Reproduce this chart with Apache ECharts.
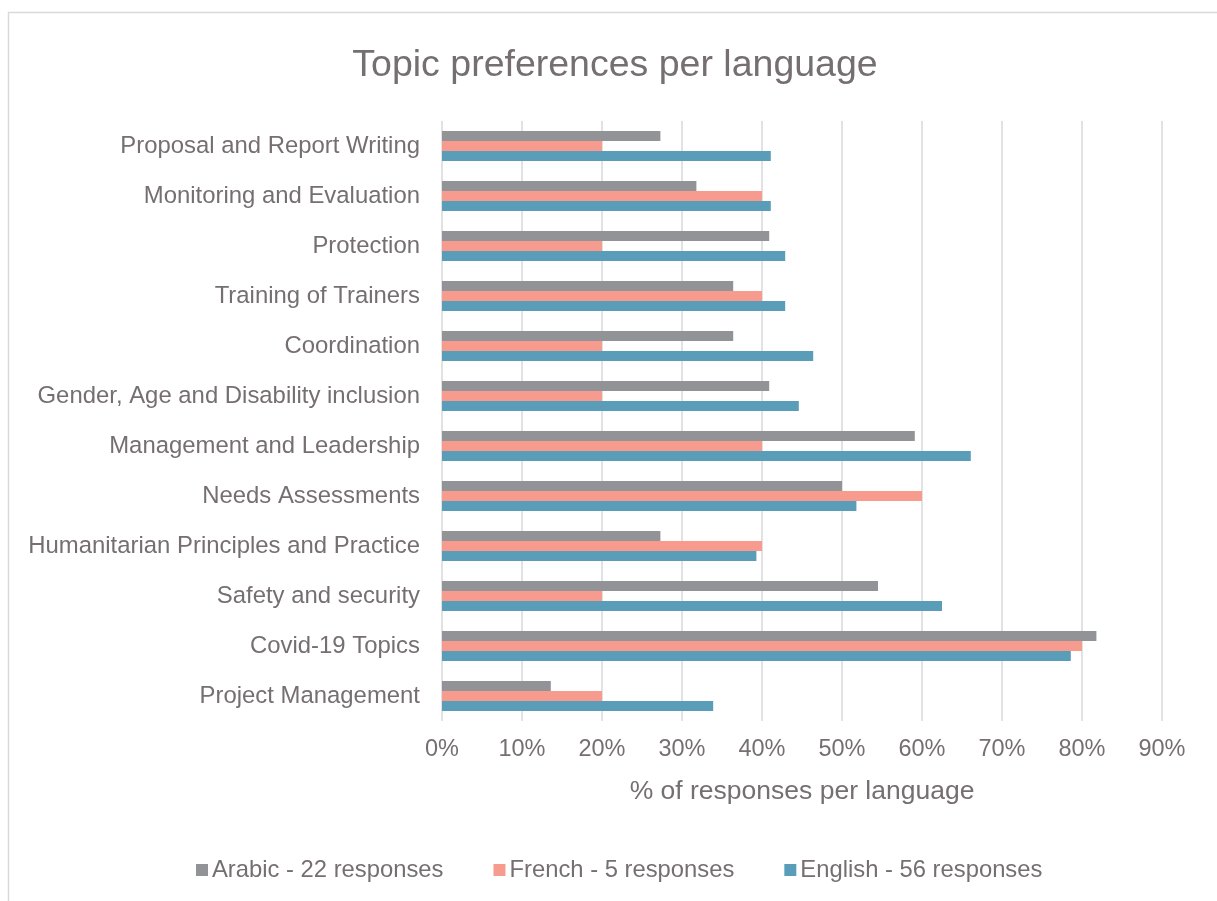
<!DOCTYPE html>
<html>
<head>
<meta charset="utf-8">
<script src="https://cdn.jsdelivr.net/npm/echarts@6/dist/echarts.min.js"></script>
<style>
  html, body { margin: 0; padding: 0; background: #fff; }
  #chart { width: 1217px; height: 901px; }
</style>
</head>
<body>
<div id="chart"></div>
<script>
// topics, top to bottom as shown
const topics = [
  'Proposal and Report Writing',
  'Monitoring and Evaluation',
  'Protection',
  'Training of Trainers',
  'Coordination',
  'Gender, Age and Disability inclusion',
  'Management and Leadership',
  'Needs Assessments',
  'Humanitarian Principles and Practice',
  'Safety and security',
  'Covid-19 Topics',
  'Project Management'
];
const seriesNames = ['Arabic - 22 responses', 'French - 5 responses', 'English - 56 responses'];
// % of responses
const arabic = [27.3, 31.8, 40.9, 36.4, 36.4, 40.9, 59.1, 50.0, 27.3, 54.5, 81.8, 13.6];
const french = [20, 40, 20, 40, 20, 20, 40, 60, 40, 20, 80, 20];
const english = [41.1, 41.1, 42.9, 42.9, 46.4, 44.6, 66.1, 51.8, 39.3, 62.5, 78.6, 33.9];
const xTicks = [0, 10, 20, 30, 40, 50, 60, 70, 80, 90];

const textColor = '#766f71';
const font = '"Liberation Sans", Arial, sans-serif';
const colors = ['#929397', '#f79b8f', '#5a9db9'];

const chart = echarts.init(document.getElementById('chart'));

const mkSeries = (name, data, i) => ({
  name: name,
  type: 'bar',
  data: data,
  barWidth: 10,
  barGap: '0%',
  itemStyle: { color: colors[i] },
  emphasis: { disabled: true }
});

chart.setOption({
  backgroundColor: '#fff',
  animation: false,
  textStyle: { fontFamily: font },
  title: {
    text: 'Topic preferences per language',
    left: 610,
    textAlign: 'center',
    top: 42,
    textStyle: { color: textColor, fontSize: 37.5, fontWeight: 'normal', fontFamily: font }
  },
  graphic: [{
    type: 'rect',
    shape: { x: 8.5, y: 12.5, width: 1230, height: 900 },
    style: { fill: 'none', stroke: '#d9d9d9', lineWidth: 1.5 },
    silent: true
  }],
  legend: {
    data: seriesNames,
    left: 196,
    top: 858,
    padding: 0,
    itemWidth: 12,
    itemHeight: 12,
    itemGap: 50,
    icon: 'rect',
    textStyle: { color: textColor, fontSize: 23.8, fontFamily: font, padding: [0, 0, 0, -1] },
    selectedMode: false
  },
  grid: { left: 442, top: 121, width: 720, height: 600 },
  xAxis: {
    type: 'value',
    min: xTicks[0],
    max: xTicks[xTicks.length - 1],
    interval: 10,
    name: '% of responses per language',
    nameLocation: 'middle',
    nameGap: 57,
    nameTextStyle: { color: textColor, fontSize: 26.5, fontFamily: font },
    axisLine: { show: false },
    axisTick: { show: false },
    axisLabel: { color: textColor, fontSize: 23.5, margin: 17, formatter: '{value}%', fontFamily: font },
    splitLine: { lineStyle: { color: '#d9d9d9', width: 1.5 } }
  },
  yAxis: {
    type: 'category',
    data: topics,
    inverse: true,
    axisLine: { show: false },
    axisTick: { show: false },
    axisLabel: { color: textColor, fontSize: 23.9, margin: 22, fontFamily: font, padding: [6, 0, 0, 0] }
  },
  series: [
    mkSeries(seriesNames[0], arabic, 0),
    mkSeries(seriesNames[1], french, 1),
    mkSeries(seriesNames[2], english, 2)
  ]
});
</script>
</body>
</html>
